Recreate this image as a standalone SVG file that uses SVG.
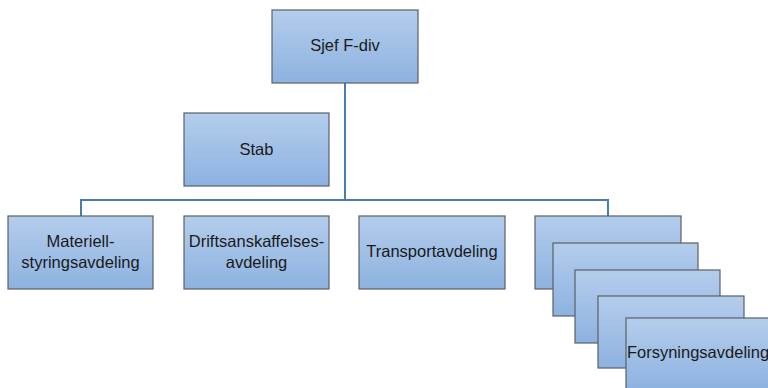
<svg xmlns="http://www.w3.org/2000/svg" width="768" height="388" viewBox="0 0 768 388">
<defs>
<linearGradient id="g" x1="0" y1="0" x2="0" y2="1">
<stop offset="0" stop-color="#b4cdec"/>
<stop offset="1" stop-color="#8db2e0"/>
</linearGradient>
<style>
.b{fill:url(#g);stroke:#5a5f66;stroke-width:1.2}
.t{font-family:"Liberation Sans",Arial,sans-serif;font-size:16.5px;fill:#1a1a1a;text-anchor:middle}
.c{fill:none;stroke:#4a7bb3;stroke-width:2}
</style>
</defs>
<rect width="768" height="388" fill="#fff"/>
<g id="connectors">
<path class="c" d="M345 83V200M81 216V200H608V216"/>
</g>
<g id="sjef"><rect class="b" x="272" y="10" width="146" height="73"/><text class="t" x="345" y="51">Sjef F-div</text></g>
<g id="stab"><rect class="b" x="184" y="113" width="145" height="73"/><text class="t" x="256.5" y="155">Stab</text></g>
<g id="materiell"><rect class="b" x="8" y="216" width="145" height="73"/><text class="t" x="80.5" y="247">Materiell-</text><text class="t" x="80.5" y="268">styringsavdeling</text></g>
<g id="drift"><rect class="b" x="184" y="216" width="145" height="73"/><text class="t" x="256.5" y="247">Driftsanskaffelses-</text><text class="t" x="256.5" y="268">avdeling</text></g>
<g id="transport"><rect class="b" x="359" y="216" width="146" height="73"/><text class="t" x="432" y="257">Transportavdeling</text></g>
<g id="forsyning">
<rect class="b" x="535" y="216" width="146" height="73"/>
<rect class="b" x="553" y="243" width="145" height="73"/>
<rect class="b" x="575" y="270" width="145" height="73"/>
<rect class="b" x="598" y="296" width="146" height="72"/>
<rect class="b" x="626" y="318" width="146" height="73"/>
<text class="t" x="698" y="358">Forsyningsavdeling</text>
</g>
</svg>
